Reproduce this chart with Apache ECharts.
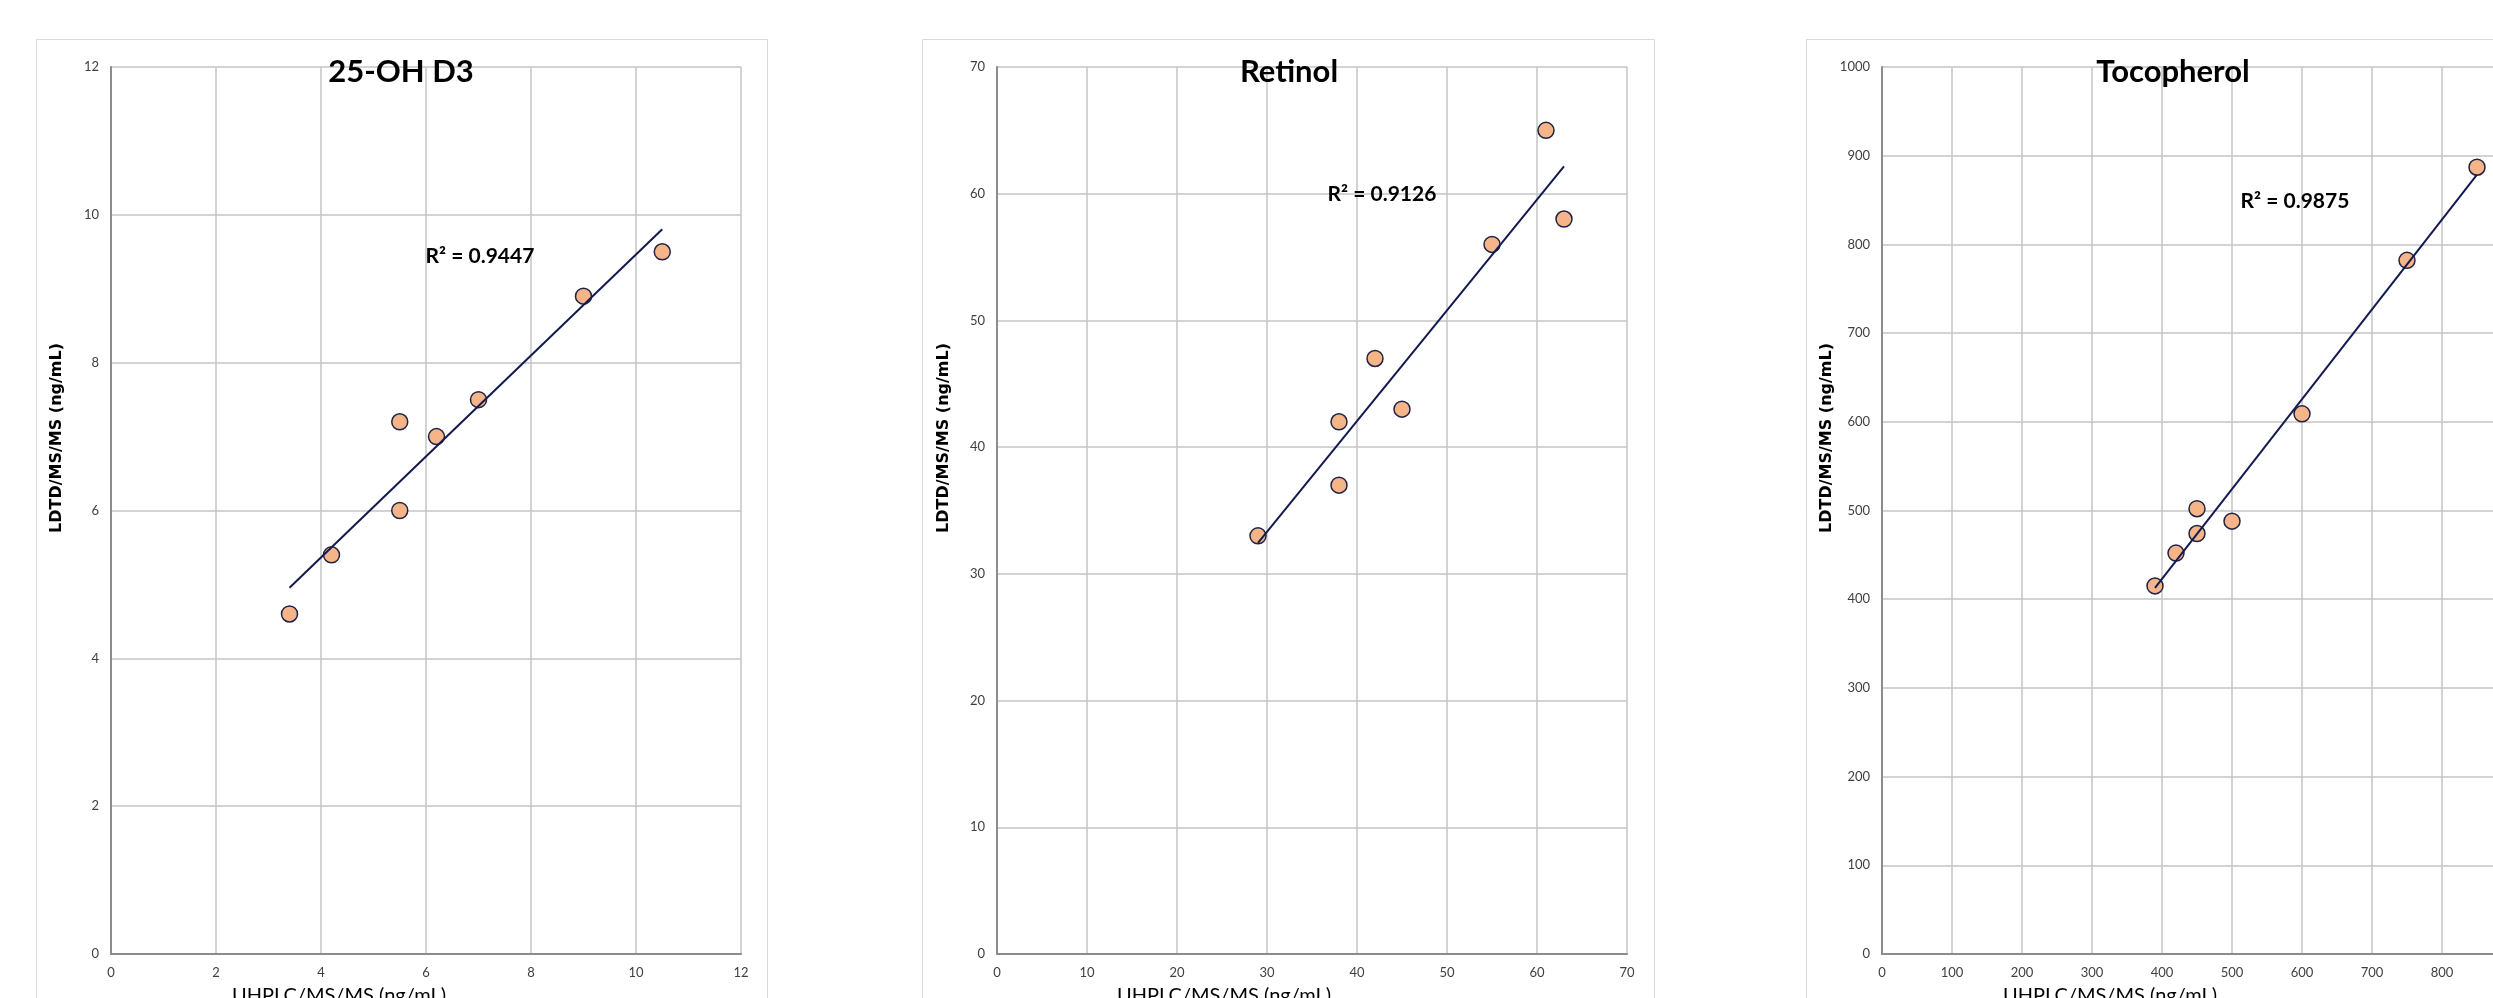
<!DOCTYPE html>
<html>
<head>
<meta charset="utf-8">
<script src="https://cdn.jsdelivr.net/npm/echarts@6/dist/echarts.min.js"></script>
<style>
html,body{margin:0;padding:0;background:#fff;}
#chart{width:2493px;height:998px;}
</style>
</head>
<body>
<div id="chart"></div>
<script>
// ---- data ----
const titles = ['25-OH D3', 'Retinol', 'Tocopherol'];
const r2Labels = ['R\u00B2 = 0.9447', 'R\u00B2 = 0.9126', 'R\u00B2 = 0.9875'];
const xAxisName = 'UHPLC/MS/MS (ng/mL)';
const yAxisName = 'LDTD/MS/MS (ng/mL)';

const xD3  = [3.4, 4.2, 5.5, 5.5, 6.2, 7.0, 9.0, 10.5];
const yD3  = [4.6, 5.4, 6.0, 7.2, 7.0, 7.5, 8.9, 9.5];
const xRet = [29, 38, 38, 42, 45, 55, 61, 63];
const yRet = [33, 37, 42, 47, 43, 56, 65, 58];
const xToc = [390, 420, 450, 450, 500, 600, 750, 850];
const yToc = [415, 452, 474, 502, 488, 609, 782, 887];

const axisMax  = [12, 70, 1000];
const axisStep = [2, 10, 100];

// ---- layout (pixels) ----
const layout = {
  grids: [
    {left: 111, width: 630},
    {left: 997, width: 630},
    {left: 1882, width: 700}
  ],
  top: 67, height: 887,
  frames: [[36, 767], [922, 1654], [1806, 2609]],
  frameTop: 39,
  titleX: [401, 1289, 2173], titleY: 72,
  r2: [[480, 256], [1382, 194], [2295, 201]],
  xNameX: [339, 1224, 2110], xNameY: 996,
  yNameX: [57, 944, 1827], yNameY: 438
};

const sets = [[xD3, yD3], [xRet, yRet], [xToc, yToc]];

function fit(xs, ys) {
  const n = xs.length;
  const mx = xs.reduce((a, b) => a + b, 0) / n;
  const my = ys.reduce((a, b) => a + b, 0) / n;
  let sxy = 0, sxx = 0;
  for (let i = 0; i < n; i++) { sxy += (xs[i] - mx) * (ys[i] - my); sxx += (xs[i] - mx) * (xs[i] - mx); }
  const b = sxy / sxx, a = my - b * mx;
  const lo = Math.min(...xs), hi = Math.max(...xs);
  return [[lo, a + b * lo], [hi, a + b * hi]];
}

const gridColor = '#c4c4c4';
const axisColor = '#8c8c8c';
const labelFont = 'Lato, "Open Sans", sans-serif';

const grids = [], xAxes = [], yAxes = [], series = [], graphics = [];

for (let i = 0; i < 3; i++) {
  grids.push({left: layout.grids[i].left, width: layout.grids[i].width, top: layout.top, height: layout.height,
    containLabel: false, outerBoundsMode: 'none'});
  const axisCommon = {
    type: 'value', gridIndex: i, min: 0, max: axisMax[i], interval: axisStep[i],
    axisLine: {show: true, lineStyle: {color: axisColor, width: 2}},
    axisTick: {show: false},
    splitLine: {show: true, lineStyle: {color: gridColor, width: 1.5}},
    axisLabel: {color: '#404040', fontFamily: labelFont, fontSize: 13, margin: 12, formatter: v => String(v)}
  };
  xAxes.push(Object.assign({}, axisCommon));
  yAxes.push(Object.assign({}, axisCommon));

  const xs = sets[i][0], ys = sets[i][1];
  series.push({
    type: 'scatter', xAxisIndex: i, yAxisIndex: i,
    data: xs.map((x, k) => [x, ys[k]]),
    symbol: 'circle', symbolSize: 16,
    itemStyle: {color: '#f5b589', borderColor: '#1e2344', borderWidth: 1.5, opacity: 1},
    z: 3
  });
  series.push({
    type: 'line', xAxisIndex: i, yAxisIndex: i,
    data: fit(xs, ys), symbol: 'none', silent: true,
    lineStyle: {color: '#121a4f', width: 2},
    z: 4
  });

  const f = layout.frames[i];
  graphics.push({
    type: 'rect', z: -10, silent: true,
    shape: {x: f[0] + 0.5, y: layout.frameTop + 0.5, width: f[1] - f[0], height: 1100},
    style: {fill: 'none', stroke: '#d9d9d9', lineWidth: 1}
  });
  graphics.push({
    type: 'text', z: 10, silent: true,
    style: {text: titles[i], x: layout.titleX[i], y: layout.titleY, align: 'center', verticalAlign: 'middle',
      font: 'bold 31px ' + labelFont, fill: '#000'}
  });
  graphics.push({
    type: 'text', z: 10, silent: true,
    style: {text: r2Labels[i], x: layout.r2[i][0], y: layout.r2[i][1], align: 'center', verticalAlign: 'middle',
      font: 'bold 21px ' + labelFont, fill: '#000'}
  });
  graphics.push({
    type: 'text', z: 10, silent: true,
    style: {text: xAxisName, x: layout.xNameX[i], y: layout.xNameY, align: 'center', verticalAlign: 'middle',
      font: '20px ' + labelFont, fill: '#000'}
  });
  graphics.push({
    type: 'text', z: 10, silent: true,
    x: layout.yNameX[i], y: layout.yNameY, rotation: Math.PI / 2,
    style: {text: yAxisName, x: 0, y: 0, align: 'center', verticalAlign: 'middle',
      font: 'bold 16px "DejaVu Sans", sans-serif', fill: '#000'}
  });
}

const chart = echarts.init(document.getElementById('chart'), null, {renderer: 'canvas'});
chart.setOption({
  backgroundColor: '#ffffff',
  animation: false,
  grid: grids,
  xAxis: xAxes,
  yAxis: yAxes,
  series: series,
  graphic: graphics
});
</script>
</body>
</html>
